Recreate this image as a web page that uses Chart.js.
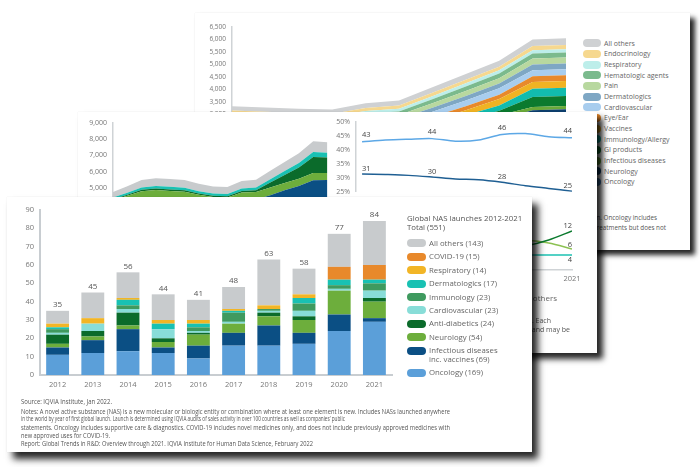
<!DOCTYPE html>
<html><head><meta charset="utf-8">
<script src="https://cdn.jsdelivr.net/npm/chart.js@4.4.1/dist/chart.umd.min.js"></script>
<style>
html,body{margin:0;padding:0}
body{width:700px;height:467px;position:relative;overflow:hidden;background:#fff;font-family:"Open Sans",sans-serif;color:#666}
.card{position:absolute;background:#fff;overflow:hidden}
#back{left:195px;top:13px;width:495px;height:237px;z-index:1;box-shadow:5px 5px 5px rgba(0,0,0,.85),0 0 1px rgba(0,0,0,.12)}
#mid{left:78px;top:112px;width:519px;height:241px;z-index:2;box-shadow:6px 6px 6px rgba(0,0,0,.85),0 0 1px rgba(0,0,0,.12)}
#front{left:7px;top:197px;width:525px;height:255px;z-index:3;box-shadow:6px 7px 7px rgba(0,0,0,.85),0 0 1px rgba(0,0,0,.12)}
canvas{position:absolute}
.abs{position:absolute;white-space:nowrap}
.sw{position:absolute;height:8px;border-radius:4px}
.lt{position:absolute;white-space:nowrap;font-size:7px;line-height:9px;color:#666}
.flt{position:absolute;white-space:nowrap;font-size:7.8px;line-height:8.6px;color:#666}
.note{position:absolute;white-space:nowrap;font-size:6.6px;line-height:8px;color:#555;transform-origin:left center}
</style></head><body>

<div id="back" class="card">
  <canvas id="cBack" style="left:0;top:0" width="385" height="200"></canvas>
  <div id="backLegend"></div>
  <div class="abs" style="right:33px;top:201px;font-size:6.3px;line-height:8px;color:#555">Notes: Spending in US$ at invoice price levels in US$Bn. Oncology includes</div>
  <div class="abs" style="right:24px;top:211px;font-size:6.3px;line-height:8px;color:#555">supportive care and diagnostic treatments but does not</div>
</div>

<div id="mid" class="card">
  <canvas id="cMidArea" style="left:0;top:0" width="260" height="170"></canvas>
  <canvas id="cMidTop" style="left:222px;top:0" width="290" height="90"></canvas>
  <canvas id="cMidBot" style="left:222px;top:88px" width="290" height="95"></canvas>
  <div class="abs" style="right:40px;top:181px;font-size:8px;line-height:10px;color:#666">Oncology&nbsp;&nbsp; Neurology&nbsp;&nbsp; Infectious diseases&nbsp;&nbsp; All others</div>
  <div class="abs" style="right:46px;top:203.5px;font-size:7px;line-height:9px;color:#555">Notes: Share of late-stage pipeline by therapy area, unit of analysis is product-indication. Each</div>
  <div class="abs" style="right:27px;top:212.5px;font-size:7px;line-height:9px;color:#555">indication is counted separately for products with multiple indications and may be</div>
</div>

<div id="front" class="card">
  <canvas id="cFront" style="left:0;top:0" width="395" height="200"></canvas>
  <div id="frontLegend"></div>
  <div id="frontNotes"></div>
</div>

<script>
// ---------- Front chart data (Global NAS launches) ----------
const years = ['2012','2013','2014','2015','2016','2017','2018','2019','2020','2021'];
const oncology       = [11,12,13,12, 9,16,16,17,24,29];
const infectious     = [ 4, 7,12, 3, 7, 7,11, 6, 9, 2];
const neurology      = [ 2, 2, 2, 3, 6, 5, 5, 7,13, 9];
const antiDiabetics  = [ 5, 3, 7, 2, 1, 0, 2, 2, 0, 2];
const cardiovascular = [ 1, 4, 2, 5, 1, 1, 1, 3, 1, 4];
const immunology     = [ 2, 0, 2, 0, 2, 5, 1, 4, 2, 4];
const dermatologics  = [ 1, 0, 3, 3, 2, 1, 0, 3, 3, 2];
const respiratory    = [ 2, 3, 1, 2, 2, 1, 2, 2, 0, 0];
const covid19        = [ 0, 0, 0, 0, 0, 0, 0, 0, 7, 8];
const allOthers      = [ 7,14,14,14,11,12,25,14,18,24];
const frontTicks = [0,10,20,30,40,50,60,70,80,90];
const legendTitle = ['Global NAS launches 2012-2021','Total (551)'];
const frontSeries = [
  {name:['Oncology (169)'], data:oncology, color:'#5b9fd9'},
  {name:['Infectious diseases','inc. vaccines (69)'], data:infectious, color:'#0b4f84'},
  {name:['Neurology (54)'], data:neurology, color:'#6dae3c'},
  {name:['Anti-diabetics (24)'], data:antiDiabetics, color:'#0b6b2b'},
  {name:['Cardiovascular (23)'], data:cardiovascular, color:'#88ddd8'},
  {name:['Immunology (23)'], data:immunology, color:'#3f9a5f'},
  {name:['Dermatologics (17)'], data:dermatologics, color:'#19c1b3'},
  {name:['Respiratory (14)'], data:respiratory, color:'#f2b526'},
  {name:['COVID-19 (15)'], data:covid19, color:'#e8892b'},
  {name:['All others (143)'], data:allOthers, color:'#c8cbcd'}
];
const noteLines = [
  ['Source: IQVIA Institute, Jan 2022.', 91],
  ['Notes: A novel active substance (NAS) is a new molecular or biologic entity or combination where at least one element is new. Includes NASs launched anywhere', 429],
  ['in the world by year of first global launch. Launch is determined using IQVIA audits of sales activity in over 100 countries as well as companies\u2019 public', 324],
  ['statements. Oncology includes supportive care & diagnostics. COVID-19 includes novel medicines only, and does not include previously approved medicines with', 429],
  ['new approved uses for COVID-19.', 89],
  ['Report: Global Trends in R&D: Overview through 2021. IQVIA Institute for Human Data Science, February 2022', 292]
];

// ---------- Back card (spending stacked area) ----------
const backYears = ['2012','2013','2014','2015','2016','2017','2018','2019','2020','2021','2022'];
const bOncology    = [1660,1610,1560,1530,1600,1590,1870,2160,2490,2870,2910];
const bNeurology   = [300,300,300,300,300,300,300,300,300,300,300];
const bInfectious  = [150,150,150,150,150,150,160,170,180,130,130];
const bGI          = [100,100,100,100,100,100,120,150,180,400,400];
const bImmuno      = [100,100,100,100,110,120,150,190,210,330,330];
const bVaccines    = [100,100,100,100,110,120,160,200,260,270,270];
const bEye         = [100,100,100,100,120,130,150,160,170,230,230];
const bCardio      = [150,150,150,150,170,180,200,230,260,240,240];
const bDerm        = [100,100,100,100,120,140,160,180,190,230,230];
const bPain        = [120,120,120,120,140,150,180,200,210,240,240];
const bHemat       = [100,100,100,100,120,140,160,180,190,200,200];
const bResp        = [80,80,80,80,100,110,120,130,130,130,130];
const bEndo        = [100,100,100,100,120,130,140,140,140,170,170];
const bOthers      = [170,170,170,170,190,200,220,230,240,260,270];
const backSeries = [
  {name:'Oncology', data:bOncology, color:'#3c78b4'},
  {name:'Neurology', data:bNeurology, color:'#0d3f6e'},
  {name:'Infectious diseases', data:bInfectious, color:'#6aaa3a'},
  {name:'GI products', data:bGI, color:'#0b7a2e'},
  {name:'Immunology/Allergy', data:bImmuno, color:'#12bcae'},
  {name:'Vaccines', data:bVaccines, color:'#f0b323'},
  {name:'Eye/Ear', data:bEye, color:'#e8892b'},
  {name:'Cardiovascular', data:bCardio, color:'#a8cdee'},
  {name:'Dermatologics', data:bDerm, color:'#7ea7c4'},
  {name:'Pain', data:bPain, color:'#b8d89f'},
  {name:'Hematologic agents', data:bHemat, color:'#7bba8d'},
  {name:'Respiratory', data:bResp, color:'#bdeeea'},
  {name:'Endocrinology', data:bEndo, color:'#f6d88f'},
  {name:'All others', data:bOthers, color:'#cfd1d3'}
];

// ---------- Middle card (pipeline area + share lines) ----------
const midYears = ['2006','2007','2008','2009','2010','2011','2012','2013','2014','2015','2016','2017','2018','2019','2020','2021'];
const mNavy   = [3940,4160,4400,4415,4365,4330,4170,4060,4030,4290,4290,4550,4850,5110,5470,5490];
const mGreen  = [300,350,400,450,450,430,400,380,380,420,450,480,450,450,450,430];
const mDkGreen= [60,70,80,90,90,90,80,80,80,100,110,300,500,700,990,950];
const mTeal   = [100,120,150,165,165,160,150,140,140,160,170,200,240,280,310,300];
const mGrey   = [350,400,450,480,480,470,450,420,420,450,480,520,560,600,660,650];
const midSeries = [
  {data:mNavy, color:'#0b4f84'},
  {data:mGreen, color:'#6dae3c'},
  {data:mDkGreen, color:'#0b6b2b'},
  {data:mTeal, color:'#19c1b3'},
  {data:mGrey, color:'#c8cbcd'}
];
const shareYears = ['2012','2013','2014','2015','2016','2017','2018','2019','2020','2021'];
const shareTop   = [43,43.6,43.9,44.1,43.2,43.6,45.6,45.9,44.8,44.4];
const shareBottom= [31.4,31.2,30.9,30.3,29.6,29.3,28.4,27.2,26.2,25.2];
const countA = [3,3,4,4,5,5,6,7,9,12];
const countB = [6,7,8,8,9,9,10,9,8,6];
const countC = [3,3,4,3,4,4,4,4,4,4];
const labelIdx = [0,3,6,9];

const FONT = 'Open Sans';
Chart.defaults.font.family = FONT;

// ---- front chart ----
const totalsPlugin = {
  id:'totals',
  afterDatasetsDraw(chart){
    const ctx = chart.ctx, ds = chart.data.datasets, ys = chart.scales.y;
    const meta = chart.getDatasetMeta(ds.length-1);
    ctx.save();
    ctx.font = '8px "Open Sans"'; ctx.fillStyle = '#555';
    ctx.textAlign = 'center'; ctx.textBaseline = 'bottom';
    chart.data.labels.forEach((l,i)=>{
      const tot = ds.reduce((a,d)=>a+d.data[i],0);
      ctx.fillText(String(tot), meta.data[i].x, ys.getPixelForValue(tot)-2);
    });
    ctx.restore();
  }
};
new Chart(document.getElementById('cFront'),{
  type:'bar',
  data:{labels:years, datasets:frontSeries.map(s=>({label:s.name.join(' '), data:s.data, backgroundColor:s.color, borderWidth:0, barPercentage:0.65, categoryPercentage:1}))},
  options:{responsive:false, animation:false, devicePixelRatio:1,
    layout:{padding:{top:13,right:10,left:0,bottom:0}},
    plugins:{legend:{display:false}, tooltip:{enabled:false}},
    scales:{
      x:{stacked:true, grid:{display:false,drawTicks:false}, border:{display:true,color:'#c8cdd1',width:2},
         ticks:{color:'#777',font:{size:7.5},padding:5}, afterFit(s){s.height=22;}},
      y:{stacked:true, min:0, max:90, grid:{display:false,drawTicks:false}, border:{display:true,color:'#c8cdd1',width:2},
         afterBuildTicks(s){s.ticks = frontTicks.map(v=>({value:v}));},
         ticks:{color:'#777',font:{size:7.5},padding:6}, afterFit(s){s.width=33;}}
    }
  },
  plugins:[totalsPlugin]
});

// front legend
(function(){
  const L = document.getElementById('frontLegend');
  let h = '';
  h += `<div class="flt" style="left:400px;top:16.5px;color:#555">${legendTitle[0]}</div>`;
  h += `<div class="flt" style="left:400px;top:25.5px;color:#555">${legendTitle[1]}</div>`;
  const rev = frontSeries.slice().reverse();
  let cy = 46.3;
  rev.forEach((s,i)=>{
    h += `<div class="sw" style="left:400px;top:${cy-4}px;width:19px;background:${s.color}"></div>`;
    s.name.forEach((line,k)=>{
      h += `<div class="flt" style="left:422px;top:${cy-4.3+k*8.6}px">${line}</div>`;
    });
    cy += 13.4 + (s.name.length-1)*8.6;
  });
  L.innerHTML = h;
  const N = document.getElementById('frontNotes');
  const tops = [204.7,214.7,222.3,230.7,239,247.3];
  N.innerHTML = noteLines.map((n,i)=>`<div class="note" data-w="${n[1]}" style="left:14px;top:${tops[i]-4}px">${n[0].replace(/&/g,'&amp;')}</div>`).join('');
  N.querySelectorAll('[data-w]').forEach(el=>{
    const w = el.getBoundingClientRect().width;
    el.style.transform = `scaleX(${(+el.dataset.w)/w})`;
  });
})();

// ---- back area chart ----
new Chart(document.getElementById('cBack'),{
  type:'line',
  data:{labels:backYears, datasets:backSeries.map((s,i)=>({label:s.name,data:s.data,backgroundColor:s.color,borderWidth:0,pointRadius:0,fill:i===0?'origin':'-1',tension:0}))},
  options:{responsive:false, animation:false, devicePixelRatio:1,
    layout:{padding:{top:14,right:14,left:0,bottom:23.5}},
    plugins:{legend:{display:false},tooltip:{enabled:false}},
    scales:{
      x:{display:false},
      y:{stacked:true,min:0,max:6500,grid:{display:false,drawTicks:false},border:{display:true,color:'#cfd3d6',width:1.5},
         ticks:{stepSize:500,color:'#777',font:{size:6.5},padding:6,callback:v=>v.toLocaleString('en-US')},
         afterFit(s){s.width=37;}}
    }
  }
});
(function(){
  const L = document.getElementById('backLegend');
  let h='', cy=30.3;
  backSeries.slice().reverse().forEach(s=>{
    h += `<div class="sw" style="left:388px;top:${cy-4}px;width:18px;background:${s.color}"></div>`;
    h += `<div class="lt" style="left:409px;top:${cy-4.5}px">${s.name}</div>`;
    cy += 10.66;
  });
  L.innerHTML = h;
})();

// ---- middle area chart ----
new Chart(document.getElementById('cMidArea'),{
  type:'line',
  data:{labels:midYears, datasets:midSeries.map((s,i)=>({data:s.data,backgroundColor:s.color,borderWidth:0,pointRadius:0,fill:i===0?'origin':'-1',tension:0}))},
  options:{responsive:false, animation:false, devicePixelRatio:1,
    layout:{padding:{top:11,right:10.5,left:0,bottom:13}},
    plugins:{legend:{display:false},tooltip:{enabled:false}},
    scales:{
      x:{display:false},
      y:{stacked:true,min:0,max:9000,grid:{display:false,drawTicks:false},border:{display:true,color:'#cfd3d6',width:1.5},
         ticks:{stepSize:1000,color:'#777',font:{size:7},padding:6,callback:v=>v.toLocaleString('en-US')},
         afterFit(s){s.width=35;}}
    }
  }
});

// ---- middle line charts ----
const pointLabels = {
  id:'pointLabels',
  afterDatasetsDraw(chart){
    const ctx = chart.ctx;
    ctx.save(); ctx.font='7.5px "Open Sans"'; ctx.fillStyle='#444'; ctx.textBaseline='middle';
    chart.data.datasets.forEach((ds,di)=>{
      if(!ds.labelIdx) return;
      const meta = chart.getDatasetMeta(di);
      ds.labelIdx.forEach(i=>{
        const p = meta.data[i];
        ctx.textAlign = i===0?'left':(i===ds.data.length-1?'right':'center');
        ctx.fillText(String(Math.round(ds.data[i].y)), p.x, p.y+ds.labelDy);
      });
    });
    ctx.restore();
  }
};
const toPts = arr => arr.map((v,i)=>({x:i,y:v}));
new Chart(document.getElementById('cMidTop'),{
  type:'line',
  data:{datasets:[
    {data:toPts(shareTop),borderColor:'#5da8e6',borderWidth:1.5,pointRadius:0,tension:0.3,labelIdx:labelIdx,labelDy:-7},
    {data:toPts(shareBottom),borderColor:'#1f5f93',borderWidth:1.5,pointRadius:0,tension:0.3,labelIdx:labelIdx,labelDy:-5.5}
  ]},
  options:{responsive:false, animation:false, devicePixelRatio:1,
    layout:{padding:{top:9,right:18,left:0,bottom:9}},
    plugins:{legend:{display:false},tooltip:{enabled:false}},
    scales:{
      x:{type:'linear',min:-0.26,max:9,display:false},
      y:{min:25,max:50,grid:{display:false,drawTicks:false},border:{display:true,color:'#cfd3d6',width:1.5},
         ticks:{stepSize:5,color:'#777',font:{size:7},padding:6,callback:v=>v+'%'},
         afterFit(s){s.width=56;}}
    }
  },
  plugins:[pointLabels]
});
new Chart(document.getElementById('cMidBot'),{
  type:'line',
  data:{datasets:[
    {data:toPts(countA),borderColor:'#0b7a2e',borderWidth:1.5,pointRadius:0,tension:0.3,labelIdx:labelIdx,labelDy:-5},
    {data:toPts(countB),borderColor:'#8cc152',borderWidth:1.5,pointRadius:0,tension:0.3,labelIdx:labelIdx,labelDy:-4.5},
    {data:toPts(countC),borderColor:'#1cc2b3',borderWidth:1.5,pointRadius:0,tension:0.3,labelIdx:labelIdx,labelDy:5}
  ]},
  options:{responsive:false, animation:false, devicePixelRatio:1,
    layout:{padding:{top:7,right:18,left:56,bottom:0}},
    plugins:{legend:{display:false},tooltip:{enabled:false}},
    scales:{
      x:{type:'linear',min:-0.26,max:9,grid:{display:false,drawTicks:false},border:{display:true,color:'#cfd3d6',width:1.5},
         afterBuildTicks(s){s.ticks = labelIdx.map(v=>({value:v}));},
         ticks:{color:'#777',font:{size:7.5},padding:4,callback:v=>shareYears[v]},
         afterFit(s){s.width=25;s.height=25;}},
      y:{display:false,min:-1,max:20}
    }
  },
  plugins:[pointLabels]
});
</script>
</body></html>
